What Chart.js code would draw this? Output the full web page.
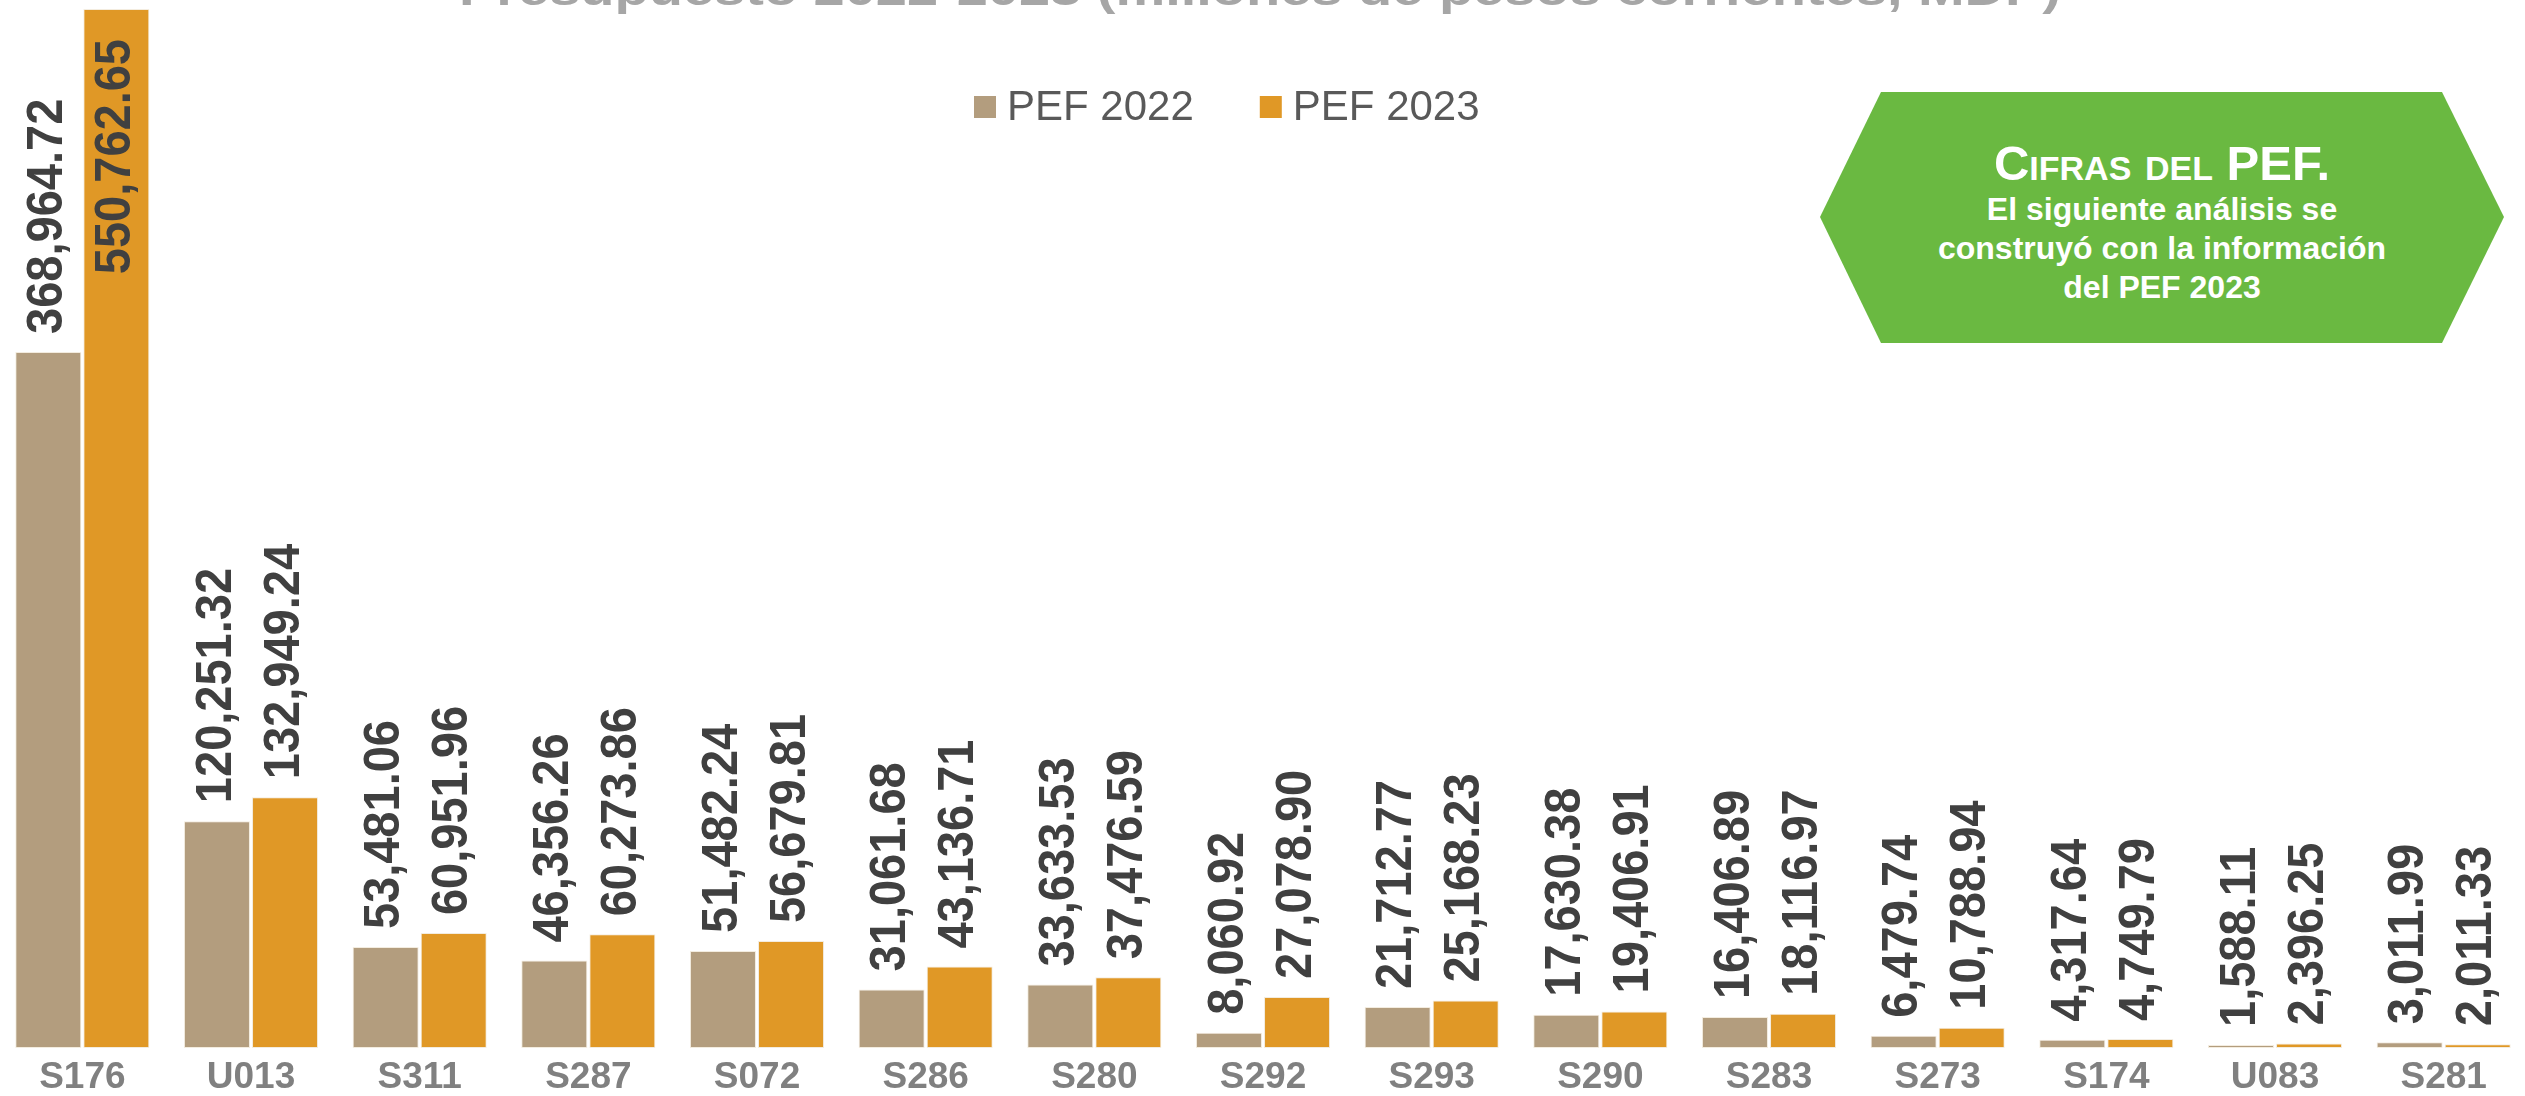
<!DOCTYPE html>
<html lang="es">
<head>
<meta charset="utf-8">
<title>Presupuesto 2022-2023</title>
<script src="https://cdn.jsdelivr.net/npm/chart.js@4.4.1/dist/chart.umd.min.js"></script>
<style>
    html, body {
        margin: 0;
        padding: 0;
        background: #ffffff;
        overflow: hidden;
    }
    #lienzo {
        position: relative;
        width: 2525px;
        height: 1096px;
        overflow: hidden;
    }
    #contenedor-grafica {
        position: absolute;
        left: -2px;
        top: 0;
        width: 2530px;
        height: 1096px;
    }
    #cuadro-pef {
        position: absolute;
        left: 1820px;
        top: 92px;
        width: 684px;
        height: 251px;
        background: #6ab941;
        clip-path: polygon(61px 0, 622px 0, 684px 125px, 622px 251px, 61px 251px, 0 125px);
        color: #ffffff;
        font-family: "Liberation Sans", Arial, sans-serif;
        font-weight: bold;
        text-align: center;
        box-sizing: border-box;
        padding-top: 44px;
    }
    #cuadro-pef .encabezado {
        font-size: 49px;
        font-variant: small-caps;
        line-height: 54px;
    }
    #cuadro-pef .cuerpo {
        font-size: 32px;
        line-height: 39px;
    }
</style>
</head>
<body>
<div id="lienzo">
    <div id="contenedor-grafica"><canvas id="grafica"></canvas></div>
    <div id="cuadro-pef">
        <div class="encabezado">Cifras del PEF.</div>
        <div class="cuerpo">El siguiente análisis se<br>construyó con la información<br>del PEF 2023</div>
    </div>
</div>
<script>
// Datos del gráfico (millones de pesos corrientes)
const titulo = 'Presupuesto 2022-2023 (millones de pesos corrientes, MDP)';
const programas = ['S176', 'U013', 'S311', 'S287', 'S072', 'S286', 'S280', 'S292',
    'S293', 'S290', 'S283', 'S273', 'S174', 'U083', 'S281'];
const pef2022 = [368964.72, 120251.32, 53481.06, 46356.26, 51482.24, 31061.68, 33633.53, 8060.92,
    21712.77, 17630.38, 16406.89, 6479.74, 4317.64, 1588.11, 3011.99];
const pef2023 = [550762.65, 132949.24, 60951.96, 60273.86, 56679.81, 43136.71, 37476.59, 27078.90,
    25168.23, 19406.91, 18116.97, 10788.94, 4749.79, 2396.25, 2011.33];
const nombresSeries = ['PEF 2022', 'PEF 2023'];
const coloresSeries = ['#b39d7e', '#e09826'];

const fuente = '"Liberation Sans", Arial, sans-serif';

// Formato con separador de miles y dos decimales
function formatearCifra(valor) {
    return valor.toLocaleString('en-US', { minimumFractionDigits: 2, maximumFractionDigits: 2 });
}

// Etiquetas verticales sobre cada barra (letra algo comprimida, como en el original)
const etiquetasValores = {
    id: 'etiquetasValores',
    afterDatasetsDraw(chart) {
        const ctx = chart.ctx;
        const compresion = 0.94;
        ctx.save();
        ctx.font = 'bold 50px ' + fuente;
        ctx.fillStyle = '#404040';
        ctx.textBaseline = 'middle';
        chart.data.datasets.forEach((serie, i) => {
            chart.getDatasetMeta(i).data.forEach((barra, j) => {
                const texto = formatearCifra(serie.data[j]);
                const ancho = ctx.measureText(texto).width * compresion;
                ctx.save();
                if (barra.y - 18 - ancho < 0) {
                    // no cabe arriba: se escribe dentro de la barra
                    ctx.translate(barra.x, barra.y + 30);
                    ctx.rotate(-Math.PI / 2);
                    ctx.textAlign = 'right';
                } else {
                    ctx.translate(barra.x, barra.y - 18);
                    ctx.rotate(-Math.PI / 2);
                    ctx.textAlign = 'left';
                }
                ctx.scale(compresion, 1);
                ctx.fillText(texto, 0, 0);
                ctx.restore();
            });
        });
        ctx.restore();
    }
};

// Título (recortado en la parte superior) y leyenda
const tituloYLeyenda = {
    id: 'tituloYLeyenda',
    afterDraw(chart) {
        const ctx = chart.ctx;
        ctx.save();
        ctx.font = 'bold 44px ' + fuente;
        ctx.fillStyle = '#a6a6a6';
        ctx.textBaseline = 'alphabetic';
        const anchoTitulo = ctx.measureText(titulo).width;
        ctx.translate(1262, 5);
        ctx.scale(1602 / anchoTitulo, 1);
        ctx.textAlign = 'center';
        ctx.fillText(titulo, 0, 0);
        ctx.restore();

        ctx.save();
        ctx.font = '42px ' + fuente;
        ctx.textBaseline = 'middle';
        ctx.textAlign = 'left';
        let x = 976;
        const y = 107;
        chart.data.datasets.forEach((serie) => {
            ctx.fillStyle = serie.backgroundColor;
            ctx.fillRect(x, y - 11, 22, 22);
            ctx.fillStyle = '#595959';
            ctx.fillText(serie.label, x + 33, y + 1);
            x += 33 + ctx.measureText(serie.label).width + 66;
        });
        ctx.restore();
    }
};

const ctx = document.getElementById('grafica').getContext('2d');
window.grafica = new Chart(ctx, {
    type: 'bar',
    data: {
        labels: programas,
        datasets: [
            { label: nombresSeries[0], data: pef2022, backgroundColor: coloresSeries[0] },
            { label: nombresSeries[1], data: pef2023, backgroundColor: coloresSeries[1] }
        ].map(s => Object.assign(s, {
            borderColor: '#f3ecdf',
            borderWidth: 1,
            borderSkipped: false,
            barPercentage: 0.97,
            categoryPercentage: 0.807
        }))
    },
    options: {
        responsive: true,
        maintainAspectRatio: false,
        animation: false,
        layout: { padding: { top: 9, left: 0, right: 0, bottom: 0 } },
        plugins: {
            legend: { display: false },
            title: { display: false },
            tooltip: { enabled: false }
        },
        scales: {
            x: {
                grid: { display: false, drawTicks: false },
                border: { display: false },
                ticks: {
                    color: '#808080',
                    padding: 8,
                    font: { family: fuente, size: 37, weight: 'bold' }
                },
                afterFit(escala) { escala.height = 48; }
            },
            y: {
                display: false,
                min: 0,
                max: Math.max(...pef2022, ...pef2023)
            }
        }
    },
    plugins: [etiquetasValores, tituloYLeyenda]
});
</script>
</body>
</html>
